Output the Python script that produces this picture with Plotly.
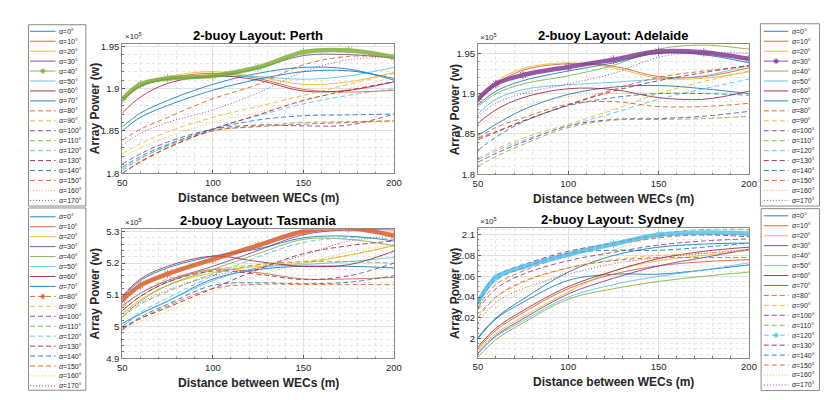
import plotly.graph_objects as go

W, H = 830, 400

# distance between WECs (m) at the sampled points
dist = [50, 60, 75, 100, 125, 150, 175, 200]
angles = list(range(0, 180, 10))

# array power (x1e5 W), one row per wave angle alpha = 0..170 deg
perth = [
    [1.855, 1.871, 1.886, 1.905, 1.918, 1.925, 1.923, 1.910],
    [1.886, 1.902, 1.912, 1.918, 1.912, 1.899, 1.896, 1.898],
    [1.888, 1.904, 1.914, 1.920, 1.914, 1.905, 1.908, 1.919],
    [1.886, 1.903, 1.911, 1.914, 1.924, 1.939, 1.940, 1.936],
    [1.887, 1.905, 1.912, 1.915, 1.925, 1.943, 1.945, 1.937],
    [1.886, 1.903, 1.911, 1.914, 1.914, 1.911, 1.915, 1.925],
    [1.871, 1.890, 1.906, 1.915, 1.910, 1.897, 1.898, 1.908],
    [1.850, 1.866, 1.880, 1.898, 1.911, 1.920, 1.921, 1.912],
    [1.839, 1.852, 1.866, 1.888, 1.905, 1.928, 1.938, 1.937],
    [1.823, 1.835, 1.849, 1.866, 1.879, 1.892, 1.905, 1.918],
    [1.811, 1.823, 1.837, 1.852, 1.857, 1.856, 1.857, 1.870],
    [1.805, 1.818, 1.832, 1.850, 1.856, 1.860, 1.861, 1.862],
    [1.803, 1.817, 1.833, 1.853, 1.868, 1.882, 1.892, 1.900],
    [1.800, 1.814, 1.830, 1.852, 1.869, 1.886, 1.898, 1.908],
    [1.807, 1.820, 1.834, 1.852, 1.863, 1.868, 1.869, 1.870],
    [1.800, 1.813, 1.830, 1.850, 1.855, 1.858, 1.860, 1.862],
    [1.818, 1.830, 1.843, 1.860, 1.872, 1.885, 1.900, 1.913],
    [1.833, 1.847, 1.860, 1.875, 1.895, 1.920, 1.934, 1.937],
]

adelaide = [
    [1.848, 1.862, 1.880, 1.899, 1.908, 1.910, 1.906, 1.900],
    [1.890, 1.912, 1.929, 1.937, 1.934, 1.921, 1.921, 1.932],
    [1.892, 1.915, 1.931, 1.938, 1.932, 1.919, 1.919, 1.927],
    [1.893, 1.912, 1.923, 1.933, 1.942, 1.952, 1.951, 1.943],
    [1.884, 1.900, 1.912, 1.922, 1.935, 1.955, 1.960, 1.955],
    [1.875, 1.893, 1.905, 1.911, 1.914, 1.918, 1.922, 1.935],
    [1.863, 1.880, 1.895, 1.906, 1.905, 1.895, 1.893, 1.903],
    [1.886, 1.903, 1.916, 1.928, 1.938, 1.950, 1.948, 1.938],
    [1.845, 1.853, 1.866, 1.886, 1.905, 1.920, 1.928, 1.934],
    [1.820, 1.831, 1.845, 1.862, 1.880, 1.900, 1.915, 1.928],
    [1.815, 1.826, 1.840, 1.860, 1.868, 1.869, 1.872, 1.878],
    [1.810, 1.822, 1.837, 1.858, 1.867, 1.868, 1.869, 1.872],
    [1.818, 1.829, 1.842, 1.860, 1.876, 1.893, 1.906, 1.918],
    [1.843, 1.852, 1.866, 1.886, 1.903, 1.916, 1.926, 1.935],
    [1.830, 1.846, 1.865, 1.885, 1.895, 1.900, 1.900, 1.898],
    [1.845, 1.858, 1.870, 1.887, 1.890, 1.884, 1.884, 1.888],
    [1.860, 1.874, 1.885, 1.896, 1.900, 1.901, 1.902, 1.900],
    [1.872, 1.888, 1.900, 1.912, 1.925, 1.945, 1.951, 1.950],
]

tasmania = [
    [5.010, 5.040, 5.080, 5.150, 5.180, 5.190, 5.190, 5.185],
    [5.050, 5.095, 5.140, 5.180, 5.170, 5.150, 5.150, 5.155],
    [5.040, 5.085, 5.130, 5.170, 5.190, 5.200, 5.225, 5.255],
    [5.065, 5.105, 5.145, 5.190, 5.240, 5.290, 5.305, 5.305],
    [5.030, 5.080, 5.130, 5.180, 5.230, 5.275, 5.275, 5.255],
    [5.000, 5.040, 5.080, 5.145, 5.185, 5.195, 5.205, 5.218],
    [5.095, 5.150, 5.190, 5.222, 5.205, 5.190, 5.195, 5.238],
    [5.092, 5.145, 5.185, 5.222, 5.245, 5.280, 5.285, 5.270],
    [5.083, 5.130, 5.166, 5.212, 5.256, 5.300, 5.310, 5.287],
    [5.060, 5.105, 5.150, 5.180, 5.195, 5.205, 5.225, 5.255],
    [5.050, 5.095, 5.140, 5.175, 5.165, 5.148, 5.160, 5.200],
    [5.030, 5.070, 5.110, 5.165, 5.195, 5.205, 5.205, 5.200],
    [5.000, 5.045, 5.090, 5.160, 5.220, 5.265, 5.280, 5.275],
    [4.995, 5.025, 5.060, 5.120, 5.180, 5.230, 5.255, 5.270],
    [4.990, 5.030, 5.070, 5.130, 5.138, 5.135, 5.140, 5.160],
    [4.990, 5.025, 5.065, 5.120, 5.133, 5.133, 5.133, 5.132],
    [4.985, 5.015, 5.050, 5.110, 5.160, 5.200, 5.235, 5.260],
    [5.040, 5.075, 5.115, 5.160, 5.185, 5.225, 5.270, 5.285],
]

sydney = [
    [2.000, 2.019, 2.035, 2.056, 2.062, 2.062, 2.066, 2.071],
    [1.990, 2.008, 2.025, 2.048, 2.062, 2.070, 2.074, 2.076],
    [1.988, 2.005, 2.021, 2.045, 2.065, 2.075, 2.080, 2.085],
    [1.986, 2.003, 2.019, 2.043, 2.058, 2.070, 2.078, 2.086],
    [1.982, 1.999, 2.015, 2.038, 2.048, 2.055, 2.060, 2.064],
    [1.985, 2.002, 2.017, 2.040, 2.052, 2.060, 2.066, 2.073],
    [1.992, 2.010, 2.027, 2.050, 2.065, 2.077, 2.084, 2.088],
    [2.001, 2.020, 2.038, 2.064, 2.080, 2.088, 2.091, 2.092],
    [2.030, 2.052, 2.065, 2.080, 2.090, 2.097, 2.100, 2.100],
    [2.023, 2.040, 2.054, 2.068, 2.076, 2.080, 2.082, 2.085],
    [2.028, 2.048, 2.062, 2.075, 2.083, 2.090, 2.094, 2.096],
    [2.033, 2.056, 2.068, 2.082, 2.092, 2.101, 2.105, 2.105],
    [2.035, 2.059, 2.069, 2.081, 2.091, 2.100, 2.102, 2.101],
    [2.036, 2.060, 2.071, 2.084, 2.092, 2.099, 2.100, 2.098],
    [2.033, 2.057, 2.068, 2.082, 2.085, 2.085, 2.088, 2.092],
    [2.020, 2.040, 2.055, 2.068, 2.075, 2.078, 2.078, 2.078],
    [2.010, 2.030, 2.045, 2.065, 2.085, 2.098, 2.102, 2.104],
    [2.015, 2.035, 2.048, 2.062, 2.072, 2.078, 2.082, 2.086],
]

x_ticks = [50, 100, 150, 200]
perth_ticks = [1.8, 1.85, 1.9, 1.95]
adelaide_ticks = [1.8, 1.85, 1.9, 1.95]
tasmania_ticks = [4.9, 5.0, 5.1, 5.2, 5.3]
sydney_ticks = [2.0, 2.02, 2.04, 2.06, 2.08, 2.1]

colors = ["#0072BD", "#D95319", "#EDB120", "#7E2F8E", "#77AC30", "#4DBEEE", "#A2142F"]
FONT = "Liberation Sans, Arial, sans-serif"
TXT = "#262626"


def style(i):
    if i < 8:
        return "solid"
    if i < 16:
        return "5px,3px"
    return "1px,2px"


# panel layout, in page pixels (x0, x1, ytop, ybottom)
panels = [
    dict(name="Perth", vals=perth, hl=4, box=(111, 387, 33.3, 165.7), yr=[1.8, 1.953],
         ticks=perth_ticks, minor=0.01, leg=(15.7, 74, 14, 199), first=20.7, lx=(17.3, 43.3),
         ital=False, ylab_x=83),
    dict(name="Adelaide", vals=adelaide, hl=3, box=(472.3, 747.7, 34, 166.7), yr=[1.8, 1.961],
         ticks=adelaide_ticks, minor=0.01, leg=(759.3, 819.3, 13, 199), first=20.7, lx=(762.7, 787.7),
         ital=True, ylab_x=449),
    dict(name="Tasmania", vals=tasmania, hl=8, box=(111, 387, 222.7, 354.3), yr=[4.9, 5.307],
         ticks=tasmania_ticks, minor=0.02, leg=(15.7, 74, 201, 387), first=210, lx=(17.3, 43.3),
         ital=True, ylab_x=83),
    dict(name="Sydney", vals=sydney, hl=12, box=(472.3, 747.7, 221.7, 354), yr=[1.9814, 2.1062],
         ticks=sydney_ticks, minor=0.005, leg=(760, 819.3, 201.7, 387.3), first=209, lx=(762.7, 787.7),
         ital=True, ylab_x=449),
]

px = lambda v: v / W
py = lambda v: 1 - v / H

fig = go.Figure()
shapes, annos = [], []
step = 10.15

for k, p in enumerate(panels, start=1):
    xa = "x" if k == 1 else f"x{k}"
    ya = "y" if k == 1 else f"y{k}"
    order = [i for i in range(18) if i != p["hl"]] + [p["hl"]]
    for i in order:
        c = colors[i % 7]
        hl = i == p["hl"]
        fig.add_trace(go.Scatter(
            x=dist, y=p["vals"][i], xaxis=xa, yaxis=ya,
            mode="lines+markers" if hl else "lines",
            line=dict(color=c, width=4.5 if hl else 1, dash="solid" if hl else style(i),
                      shape="spline"),
            marker=dict(symbol="asterisk-open", size=7, line=dict(color=c, width=1)),
            opacity=0.8,
            showlegend=False, hoverinfo="skip",
        ))

    x0, x1, yt, yb = p["box"]
    axis_common = dict(showline=True, mirror=True, linecolor="#8a8a8a", linewidth=1,
                       ticks="inside", ticklen=3, tickcolor="#555", zeroline=False,
                       showgrid=True, gridcolor="#e2e2e2", gridwidth=1,
                       tickfont=dict(family=FONT, size=9.5, color=TXT))
    fig.update_layout(**{
        ("xaxis" if k == 1 else f"xaxis{k}"): dict(
            axis_common, domain=[px(x0), px(x1)], range=[50, 200], anchor=ya,
            tickvals=x_ticks, ticktext=[str(v) for v in x_ticks],
            minor=dict(dtick=10, showgrid=True, gridcolor="#e6e6e6", griddash="dot",
                       ticks="inside", ticklen=1.5, tickcolor="#777")),
        ("yaxis" if k == 1 else f"yaxis{k}"): dict(
            axis_common, domain=[py(yb), py(yt)], range=p["yr"], anchor=xa,
            tickvals=p["ticks"], ticktext=[f"{v:g}" for v in p["ticks"]],
            minor=dict(dtick=p["minor"], tick0=p["ticks"][0], showgrid=True, gridcolor="#e6e6e6",
                       griddash="dot", ticks="inside", ticklen=1.5, tickcolor="#777")),
    })

    cx = (x0 + x1) / 2
    annos.append(dict(x=px(cx), y=py(yt - 8.5), xref="paper", yref="paper", showarrow=False,
                      text=f"<b>2-buoy Layout: {p['name']}</b>", xanchor="center", yanchor="middle",
                      font=dict(family=FONT, size=13, color="#000")))
    annos.append(dict(x=px(cx), y=py(yb + 25), xref="paper", yref="paper", showarrow=False,
                      text="<b>Distance between WECs (m)</b>", xanchor="center", yanchor="middle",
                      font=dict(family=FONT, size=12, color=TXT)))
    annos.append(dict(x=px(p["ylab_x"]), y=py((yt + yb) / 2), xref="paper", yref="paper",
                      showarrow=False, textangle=-90, text="<b>Array Power (w)</b>",
                      xanchor="center", yanchor="middle", font=dict(family=FONT, size=12, color=TXT)))
    annos.append(dict(x=px(x0 + 0.5), y=py(yt - 0.5), xref="paper", yref="paper", showarrow=False,
                      text="×10<sup>5</sup>", xanchor="left", yanchor="bottom",
                      font=dict(family=FONT, size=8, color=TXT)))

    # legend box drawn by hand (18 entries are too dense for plotly's legend)
    lx0, lx1, ly0, ly1 = p["leg"]
    shapes.append(dict(type="rect", xref="paper", yref="paper", x0=px(lx0), x1=px(lx1),
                       y0=py(ly1), y1=py(ly0), line=dict(color="#8a8a8a", width=1),
                       fillcolor="white", layer="above"))
    a0, a1 = p["lx"]
    for i, a in enumerate(angles):
        yy = p["first"] + i * step
        c = colors[i % 7]
        shapes.append(dict(type="line", xref="paper", yref="paper", x0=px(a0), x1=px(a1),
                           y0=py(yy), y1=py(yy), layer="above", opacity=0.85,
                           line=dict(color=c, width=1, dash=style(i))))
        if i == p["hl"]:
            mx, r = (a0 + a1) / 2, 2.8
            path = (f"M{px(mx - r)},{py(yy)} L{px(mx + r)},{py(yy)} "
                    f"M{px(mx)},{py(yy - r)} L{px(mx)},{py(yy + r)} "
                    f"M{px(mx - r * .7)},{py(yy - r * .7)} L{px(mx + r * .7)},{py(yy + r * .7)} "
                    f"M{px(mx - r * .7)},{py(yy + r * .7)} L{px(mx + r * .7)},{py(yy - r * .7)}")
            shapes.append(dict(type="path", xref="paper", yref="paper", path=path,
                               layer="above", line=dict(color=c, width=1)))
        alpha = "<i>α</i>" if p["ital"] else "α"
        annos.append(dict(x=px(a1 + 1.5), y=py(yy), xref="paper", yref="paper", showarrow=False,
                          text=f"{alpha}={a}°", xanchor="left", yanchor="middle",
                          font=dict(family=FONT, size=7, color=TXT)))

fig.update_layout(
    width=W, height=H, margin=dict(l=0, r=0, t=0, b=0),
    plot_bgcolor="white", paper_bgcolor="white",
    shapes=shapes, annotations=annos, showlegend=False,
)

fig.write_html("out.html")
